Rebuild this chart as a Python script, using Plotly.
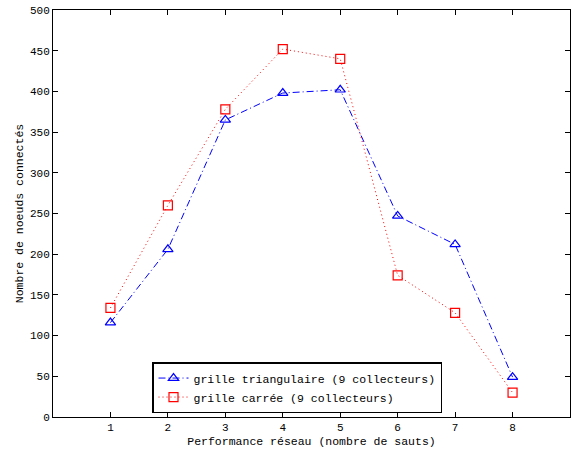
import plotly.graph_objects as go

hops = [1, 2, 3, 4, 5, 6, 7, 8]
tri = [116, 206, 365, 398, 402, 247, 212, 49]
sq = [134, 260, 378, 452, 440, 174, 128, 30]
x_ticks = [1, 2, 3, 4, 5, 6, 7, 8]
y_ticks = [0, 50, 100, 150, 200, 250, 300, 350, 400, 450, 500]

font = "Liberation Mono, Courier New, monospace"

fig = go.Figure()
fig.add_trace(go.Scatter(
    x=hops, y=tri, mode="lines+markers",
    name="grille triangulaire (9 collecteurs)",
    line=dict(color="blue", width=1, dash="7px,3px,1px,3px"),
    marker=dict(symbol="triangle-up-open", size=9, color="blue", line=dict(width=1.2)),
))
fig.add_trace(go.Scatter(
    x=hops, y=sq, mode="lines+markers",
    name="grille carrée (9 collecteurs)",
    line=dict(color="red", width=1, dash="1px,3px"),
    marker=dict(symbol="square-open", size=9, color="red", line=dict(width=1.2)),
))

axis_common = dict(
    showline=True, linecolor="black", linewidth=1, mirror="ticks",
    ticks="inside", ticklen=5, tickcolor="black", showgrid=False, zeroline=False,
    tickfont=dict(family=font, size=11, color="black"),
)
fig.update_xaxes(range=[0, 9], tickvals=x_ticks,
                 title=dict(text="Performance réseau (nombre de sauts)", standoff=3,
                            font=dict(family=font, size=11.5, color="black")),
                 **axis_common)
fig.update_yaxes(range=[0, 500], tickvals=y_ticks,
                 title=dict(text="Nombre de noeuds connectés", standoff=3,
                            font=dict(family=font, size=11.5, color="black")),
                 **axis_common)

fig.update_layout(
    width=573, height=450,
    margin=dict(l=53, r=3, t=10, b=33, autoexpand=False),
    plot_bgcolor="white", paper_bgcolor="white",
    legend=dict(x=0.1915, y=0.135, xanchor="left", yanchor="top",
                bordercolor="black", borderwidth=1.5, bgcolor="white",
                font=dict(family=font, size=11.5, color="black"),
                tracegroupgap=0, itemwidth=30),
)
fig.write_html("out.html", config={"displayModeBar": False},
               post_script="document.body.style.margin='0';")
